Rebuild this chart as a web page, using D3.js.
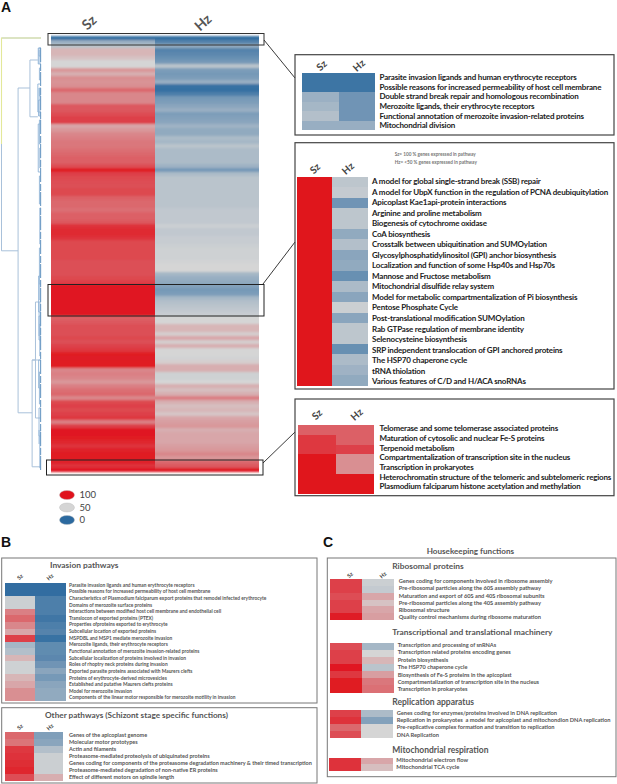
<!DOCTYPE html>
<html><head><meta charset="utf-8">
<script src="https://cdnjs.cloudflare.com/ajax/libs/d3/7.8.5/d3.min.js"></script>
<style>html,body{margin:0;padding:0;background:#fff}svg{display:block}text{font-family:Lato,"Open Sans",sans-serif}</style>
</head><body><svg id="c" width="617" height="784"><defs><filter id="soft" x="-2%" y="-2%" width="104%" height="104%"><feGaussianBlur stdDeviation="0.25 0.9"/></filter><filter id="soft2" x="-3%" y="-3%" width="106%" height="106%"><feGaussianBlur stdDeviation="0.3"/></filter></defs></svg>
<script>
// ---------- data ----------
const mainSz=[2,32,42,58,58,55,50,50,66,60,68,67,68,78,70,70,70,82,82,85,88,88,62,66,70,72,74,74,76,78,80,80,85,98,88,86,85,84,86,86,80,78,78,76,80,80,82,92,94,94,92,86,86,86,86,86,84,84,84,84,86,88,99,99,99,99,99,99,99,99,80,82,84,84,84,86,84,88,90,98,97,98,98,70,72,70,66,72,76,78,70,86,88,86,88,90,72,88,99,99,98,95,92,96,98,98,96,92,99];
const mainHz=[2,12,30,12,14,18,22,42,24,22,24,32,4,3,10,22,24,28,32,24,26,28,34,30,30,38,36,42,38,38,38,38,34,22,38,42,42,42,42,42,42,42,42,44,44,44,44,47,44,44,46,46,47,48,48,48,49,50,50,36,32,30,26,22,24,36,40,42,44,46,50,50,58,58,52,62,52,60,50,50,49,52,60,60,48,48,50,60,56,60,72,60,56,58,54,62,64,66,60,62,62,62,64,66,70,66,78,82,99];
const legendValues=[100,50,0];
const columns=["Sz","Hz"];

const box1Labels=["Parasite invasion ligands and human erythrocyte receptors","Possible reasons for increased permeability of host cell membrane","Double strand break repair and homologous recombination","Merozoite ligands, their erythrocyte receptors","Functional annotation of merozoite invasion-related proteins","Mitochondrial division"];
const box1Sz=[5,5,33,36,40,32];
const box1Hz=[5,5,20,20,20,32];

const box2Labels=["A model for global single-strand break (SSB) repair","A model for UbpX function in the regulation of PCNA deubiquitylation","Apicoplast Kae1api-protein interactions","Arginine and proline metabolism","Biogenesis of cytochrome oxidase","CoA biosynthesis","Crosstalk between ubiquitination and SUMOylation","Glycosylphosphatidylinositol (GPI) anchor biosynthesis","Localization and function of some Hsp40s and Hsp70s","Mannose and Fructose metabolism","Mitochondrial disulfide relay system","Model for metabolic compartmentalization of Pi biosynthesis","Pentose Phosphate Cycle","Post-translational modification SUMOylation","Rab GTPase regulation of membrane identity","Selenocysteine biosynthesis","SRP independent translocation of GPI anchored proteins","The HSP70 chaperone cycle","tRNA thiolation","Various features of C/D and H/ACA snoRNAs"];
const box2Sz=[100,100,100,100,100,100,100,100,100,100,100,100,100,100,100,100,100,100,100,100];
const box2Hz=[43,45,20,43,43,30,40,28,30,18,38,28,47,28,43,43,18,38,34,30];
const box2Note=["Sz= 100 % genes expressed in pathway","Hz= <50 % genes expressed in pathway"];

const box3Labels=["Telomerase and some telomerase associated proteins","Maturation of cytosolic and nuclear Fe-S proteins","Terpenoid metabolism","Compartmentalization of transcription site in the nucleus","Transcription in prokaryotes","Heterochromatin structure of the telomeric and subtelomeric regions","Plasmodium falciparum histone acetylation and methylation"];
const box3Sz=[80,90,90,100,100,100,100];
const box3Hz=[80,80,88,68,68,100,100];

const invLabels=["Parasite invasion ligands and human erythrocyte receptors","Possible reasons for increased permeability of host cell membrane","Characteristics of Plasmodium falciparum export proteins that remodel infected erythrocyte","Domains of merozoite surface proteins","Interactions between modified host cell membrane and endothelial cell","Translocon of exported proteins (PTEX)","Properties ofproteins exported to erythrocyte","Subcellular location of exported proteins","MSPDBL and MSP1 mediate merozoite invasion","Merozoite ligands, their erythrocyte receptors","Functional annotation of merozoite invasion-related proteins","Subcellular localization of proteins involved in invasion","Roles of rhoptry neck proteins during invasion","Exported parasite proteins associated with Maurers clefts","Proteins of erythrocyte-derived microvesicles","Established and putative Maurers clefts proteins","Model for merozoite invasion","Components of the linear motor responsible for merozoite motility in invasion"];
const invSz=[2,2,47,47,72,78,70,62,88,36,40,58,48,48,58,62,68,68];
const invHz=[2,2,10,10,10,6,10,12,4,16,16,14,20,28,22,28,30,30];

const othLabels=["Genes of the apicoplast genome","Molecular motor prototypes","Actin and filaments","Proteasome-mediated proteolysis of ubiquinated proteins","Genes coding for components of the proteasome degradation machinery & their timed transcription","Proteasome-mediated degradation of non-native ER proteins","Effect of different motors on spindle length"];
const othSz=[78,75,90,92,93,95,85];
const othHz=[25,28,40,47,47,47,60];

const ribLabels=["Genes coding for components involved in ribosome assembly","Pre-ribosomal particles along the 60S assembly pathway","Maturation and export of 60S and 40S ribosomal subunits","Pre-ribosomal particles along the 40S assembly pathway","Ribosomal structure","Quality control mechanisms during ribosome maturation"];
const ribSz=[88,88,85,88,88,97];
const ribHz=[47,45,62,55,62,64];

const traLabels=["Transcription and processing of snRNAs","Transcription related proteins encoding genes","Protein biosynthesis","The HSP70 chaperone cycle","Biosynthesis of Fe-S proteins in the apicoplast","Compartmentalization of transcription site in the nucleus","Transcription in prokaryotes"];
const traSz=[85,88,88,99,90,98,98];
const traHz=[36,50,58,42,64,74,76];

const repLabels=["Genes coding for enzymes/proteins involved in DNA replication","Replication in prokaryotes  a model for apicoplast and mitochondion DNA replication","Pre-replicative complex formation and transition to replication","DNA Replication"];
const repSz=[88,92,78,85];
const repHz=[38,26,50,50];

const mitLabels=["Mitochondrial electron flow","Mitochondrial TCA cycle"];
const mitSz=[92,92];
const mitHz=[62,56];

// dendrogram merges: [height 0-100, first row, last row, height of first child, height of last child]
const dendroMerges=[[0,0.5,53.7,100,42],[42,13,94.2,72,77.5],[72,6,20.2,92,92],[77.5,81,107.7,100,100],[86,66.5,95.5,100,100]];
const dendroExtra=[[77.5,81,86]];
// tight leaf merges: [height, first row, last row]
const leafMerges=[[93,3,7],[95,3,5],[96,8,11],[92,12,19],[96,13,15],[94,16,20],[96,21,27],[93,22,34],[97,28,33],[96,35,42],[97,43,52],[96,53,62],[94,60,69],[97,62,66],[95,70,76],[97,72,80],[94,81,88],[96,84,92],[95,93,100],[97,100,108]];
// pale filled leaf bands: [first row, last row]
const leafBands=[[3.5,7],[13,20],[66.5,75],[98.5,102]];

// ---------- rendering ----------
const svg=d3.select("#c");
const color=d3.scaleLinear().domain([0,50,100]).range(["#2b699f","#d5d5d5","#e0121c"]).clamp(true);

function heat(sz,hz,x0,xm,x1,y0,y1,filter){
  const g=svg.append("g").attr("shape-rendering","crispEdges").attr("filter",filter||"url(#soft2)");
  const y=d3.scaleBand().domain(d3.range(sz.length)).range([y0,y1]);
  const rows=sz.map((v,i)=>({i,v,h:hz[i]}));
  g.selectAll(".s").data(rows).join("rect").attr("x",x0).attr("width",xm-x0).attr("y",d=>y(d.i)).attr("height",y.bandwidth()+.3).attr("fill",d=>color(d.v));
  g.selectAll(".h").data(rows).join("rect").attr("x",xm).attr("width",x1-xm).attr("y",d=>y(d.i)).attr("height",y.bandwidth()+.3).attr("fill",d=>color(d.h));
}
function labels(arr,x,first,step,size,weight,fill,ls){
  const y=d3.scaleLinear().domain([0,1]).range([first,first+step]);
  svg.append("g").selectAll("text").data(arr).join("text").attr("x",x).attr("y",(d,i)=>y(i)).attr("dy","0.35em")
    .attr("font-size",size).attr("font-weight",weight).attr("fill",fill).attr("letter-spacing",ls||0).attr("xml:space","preserve").text(d=>d);
}
function colLabels(xs,y,size,fill,weight){
  svg.append("g").selectAll("text").data(columns).join("text")
    .attr("transform",(d,i)=>`translate(${xs[i]},${y}) rotate(-42)`).attr("text-anchor","middle").attr("dy","0.35em")
    .attr("font-size",size).attr("font-weight",weight||700).attr("fill",fill).text(d=>d);
}
function frame(x0,y0,x1,y1,stroke,w){
  svg.append("rect").attr("x",x0).attr("y",y0).attr("width",x1-x0).attr("height",y1-y0).attr("fill","none").attr("stroke",stroke).attr("stroke-width",w);
}
function line(x1,y1,x2,y2){svg.append("line").attr("x1",x1).attr("y1",y1).attr("x2",x2).attr("y2",y2).attr("stroke","#222").attr("stroke-width",.9);}
function panel(t,x,y){svg.append("text").attr("x",x).attr("y",y).attr("font-size",14).attr("font-weight",700).attr("fill","#111").style("font-family","Liberation Sans").text(t);}
function title(t,x,y,size,fill){svg.append("text").attr("x",x).attr("y",y).attr("dy","0.35em").attr("font-size",size).attr("font-weight",700).attr("fill",fill||"#555").text(t);}

// main heatmap
heat(mainSz,mainHz,50.5,154.5,258.5,36,472,"url(#soft)");
colLabels([89,203],22.5,14,"#555");

// dendrogram
const dx=d3.scaleLinear().domain([0,100]).range([1.5,41]);
const dy=d3.scaleLinear().domain([0,109]).range([36,472]);
const dg=svg.append("g").attr("fill","none");
dg.selectAll(".b").data(leafBands).join("rect").attr("x",dx(93)).attr("width",dx(100)-dx(93)).attr("y",d=>dy(d[0])).attr("height",d=>dy(d[1])-dy(d[0])).attr("fill","#c4d8ec");
dg.selectAll(".m").data(dendroMerges).join("path").attr("stroke","#a9c1da").attr("stroke-width",1)
  .attr("d",d=>`M${dx(d[3])},${dy(d[1])}H${dx(d[0])}V${dy(d[2])}H${dx(d[4])}`);
dg.selectAll(".e").data(dendroExtra).join("path").attr("stroke","#a9c1da").attr("stroke-width",1)
  .attr("d",d=>`M${dx(d[0])},${dy(d[1])}H${dx(d[2])}`);
dg.append("path").attr("stroke","#e3e89a").attr("stroke-width",1.1).attr("d",`M${dx(100)},${dy(0.5)}H${dx(0)}V${dy(27)}`);
dg.selectAll(".l").data(leafMerges).join("path").attr("stroke","#8fb3d6").attr("stroke-width",.9)
  .attr("d",d=>`M${dx(100)},${dy(d[1])}H${dx(d[0])}V${dy(d[2])}H${dx(100)}`);
dg.append("path").attr("stroke","#6f9cc6").attr("stroke-width",1.1).attr("stroke-dasharray","14 2 7 1")
  .attr("d",`M${dx(99)},${dy(3)}V${dy(108.5)}`);

// legend
const ly=d3.scalePoint().domain(legendValues).range([495,520]);
svg.append("g").selectAll("ellipse").data(legendValues).join("ellipse").attr("cx",67).attr("cy",d=>ly(d)).attr("rx",7.5).attr("ry",4.5).attr("fill",d=>color(d)).attr("stroke","#bbb").attr("stroke-width",.4);
svg.append("g").selectAll("text").data(legendValues).join("text").attr("x",79.5).attr("y",d=>ly(d)).attr("dy","0.36em").attr("font-size",9.5).attr("fill","#444").text(d=>d);

// panel A insets
frame(48,33.5,264,45,"#333",1); frame(48,284.5,264,316,"#222",1); frame(46.5,460,263,475,"#222",1);
line(264,40,295,78); line(263,284,295,242); line(263,463,295,432);
frame(295,54.7,614,135,"#444",1.2);
heat(box1Sz,box1Hz,301.7,339,375,73,130);
colLabels([321.7,359],65.5,10,"#444");
labels(box1Labels,379.5,77.3,9.65,8,700,"#222",-0.18);
frame(295,142.7,614,389,"#444",1.2);
heat(box2Sz,box2Hz,297,332,368,176.7,385.7);
colLabels([315,348],168.5,10,"#444");
labels(box2Labels,372,181.3,10.53,8,700,"#222",-0.18);
labels(box2Note,394.7,154,8,4.7,700,"#777");
frame(295,399,614,495.7,"#444",1.2);
heat(box3Sz,box3Hz,297.7,336,374.3,425,493.3);
colLabels([317,356.7],414.5,10,"#444");
labels(box3Labels,379.5,428.3,9.7,8,700,"#222",-0.2);

// panel letters
panel("A",1,12); panel("B",1,547); panel("C",323,547);

// panel B
frame(1.7,558,317,703,"#777",1);
title("Invasion pathways",50,565,8.4,"#555");
colLabels([20,50],577,5.5,"#444");
heat(invSz,invHz,5,35.3,65.7,582.7,700.7);
labels(invLabels,69,585,6.63,4.85,700,"#555");
frame(1.7,707.7,317,783,"#777",1);
title("Other pathways (Schizont stage specific functions)",45,715,8.2,"#555");
colLabels([20,50],727,5.5,"#444");
heat(othSz,othHz,5,34.3,63.3,732,780.7);
labels(othLabels,69,735.3,6.94,5.5,700,"#555");

// panel C
title("Housekeeping functions",426.7,550.7,8.1,"#555");
frame(327.3,558,616,776.7,"#777",1);
title("Ribosomal proteins",392.3,565.7,8.4,"#555");
colLabels([350,383],575,5.5,"#444");
heat(ribSz,ribHz,330,362.3,394,579.3,620);
labels(ribLabels,398.7,581,7.27,5.7,700,"#555");
title("Transcriptional and translational machinery",392.3,632.3,8.4,"#555");
heat(traSz,traHz,330,361.7,394,642.7,692.3);
labels(traLabels,397.7,645,7.39,5.6,700,"#555");
title("Replication apparatus",392.3,702.3,8.5,"#555");
heat(repSz,repHz,330,361,392.7,710,737.7);
labels(repLabels,396.7,712.7,7.33,5.7,700,"#555");
title("Mitochondrial respiration",392.3,750,8.5,"#555");
heat(mitSz,mitHz,329.3,361,392.7,758,770.7);
labels(mitLabels,396.3,760,7.3,5.8,700,"#555");
</script></body></html>
